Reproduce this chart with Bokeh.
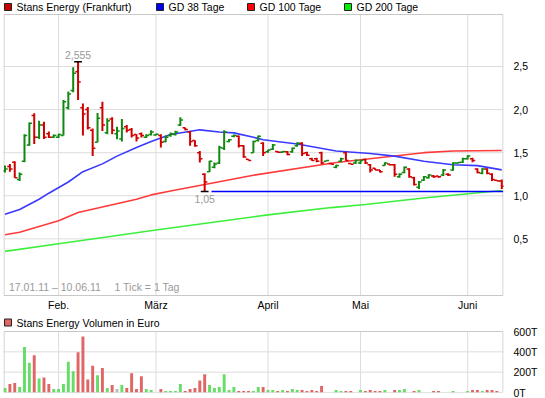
from bokeh.plotting import figure
from bokeh.models import (ColumnDataSource, FixedTicker, Range1d, Label,
                          CustomJSTickFormatter)
from bokeh.layouts import column
from bokeh.transform import dodge
from bokeh.embed import file_html
from bokeh.resources import INLINE

FONT = "Liberation Sans"
FS = "10.5px"

# ---------------- data (trading-day index 0 = 17.01.11 ... 102 = 10.06.11) ----------------
days = list(range(103))

open_ = [1.29, 1.34, 1.39, 1.19, 1.40, 1.59, 1.93, 1.68, 1.82, 1.72,
         1.68, 1.68, 1.70, 2.02, 2.22, 2.44, 2.02, 2.00, 1.76, 1.62,
         2.02, 1.73, 1.89, 1.72, 1.66, 1.80, 1.77, 1.71, 1.72, 1.68,
         1.71, 1.705, 1.70, 1.63, 1.70, 1.71, 1.82, 1.79, 1.74, 1.64,
         1.50, 1.25, 1.28, 1.33, 1.38, 1.55, 1.63, 1.69, 1.69, 1.58,
         1.425, 1.50, 1.64, 1.61, 1.51, 1.54, 1.515, 1.505, 1.51, 1.51,
         1.58, 1.61, 1.50, 1.43, 1.43, 1.50, 1.40, 1.375, 1.33, 1.40,
         1.50, 1.375, 1.38, 1.38, 1.42, 1.36, 1.32, 1.30, 1.35, 1.37,
         1.36, 1.22, 1.27, 1.31, 1.21, 1.10, 1.18, 1.21, 1.23, 1.23,
         1.24, 1.25, 1.30, 1.38, 1.39, 1.43, 1.43, 1.31, 1.26, 1.31,
         1.25, 1.18, 1.17]
high = [1.35, 1.37, 1.40, 1.27, 1.715, 1.85, 1.956, 1.87, 1.86, 1.745,
        1.71, 1.72, 2.11, 2.21, 2.49, 2.555, 2.07, 2.03, 1.78, 1.96,
        2.09, 1.90, 1.91, 1.80, 1.89, 1.82, 1.785, 1.715, 1.735, 1.715,
        1.76, 1.72, 1.715, 1.70, 1.735, 1.753, 1.91, 1.79, 1.75, 1.645,
        1.52, 1.26, 1.405, 1.385, 1.58, 1.76, 1.66, 1.71, 1.70, 1.587,
        1.425, 1.637, 1.70, 1.62, 1.535, 1.60, 1.52, 1.52, 1.52, 1.56,
        1.62, 1.62, 1.51, 1.44, 1.44, 1.51, 1.41, 1.375, 1.36, 1.44,
        1.51, 1.375, 1.42, 1.42, 1.43, 1.37, 1.32, 1.30, 1.39, 1.37,
        1.37, 1.26, 1.34, 1.32, 1.22, 1.17, 1.23, 1.25, 1.24, 1.23,
        1.31, 1.26, 1.39, 1.385, 1.44, 1.47, 1.44, 1.32, 1.32, 1.32,
        1.26, 1.18, 1.19]
low = [1.27, 1.28, 1.21, 1.17, 1.39, 1.58, 1.60, 1.66, 1.66, 1.67,
       1.67, 1.67, 1.70, 2.00, 2.20, 2.11, 1.70, 1.77, 1.46, 1.62,
       1.75, 1.715, 1.715, 1.657, 1.63, 1.735, 1.676, 1.63, 1.676, 1.67,
       1.70, 1.70, 1.56, 1.62, 1.684, 1.70, 1.81, 1.76, 1.58, 1.57,
       1.386, 1.05, 1.277, 1.32, 1.37, 1.53, 1.62, 1.68, 1.56, 1.44,
       1.41, 1.50, 1.63, 1.46, 1.50, 1.53, 1.50, 1.50, 1.47, 1.50,
       1.57, 1.46, 1.46, 1.405, 1.39, 1.37, 1.40, 1.365, 1.32, 1.39,
       1.405, 1.365, 1.37, 1.37, 1.37, 1.27, 1.30, 1.27, 1.35, 1.35,
       1.22, 1.21, 1.26, 1.21, 1.12, 1.08, 1.17, 1.20, 1.21, 1.21,
       1.23, 1.23, 1.29, 1.375, 1.38, 1.42, 1.39, 1.26, 1.25, 1.25,
       1.17, 1.17, 1.08]
close = [1.31, 1.31, 1.21, 1.25, 1.70, 1.84, 1.68, 1.82, 1.68, 1.68,
         1.70, 1.71, 2.09, 2.18, 2.42, 2.32, 1.95, 1.79, 1.55, 1.90,
         1.82, 1.87, 1.76, 1.75, 1.78, 1.76, 1.70, 1.67, 1.70, 1.70,
         1.74, 1.715, 1.62, 1.68, 1.72, 1.74, 1.88, 1.77, 1.63, 1.58,
         1.43, 1.16, 1.40, 1.37, 1.56, 1.74, 1.65, 1.70, 1.58, 1.45,
         1.41, 1.63, 1.69, 1.50, 1.53, 1.59, 1.505, 1.515, 1.48, 1.55,
         1.61, 1.49, 1.47, 1.41, 1.40, 1.38, 1.41, 1.365, 1.35, 1.43,
         1.41, 1.365, 1.41, 1.41, 1.38, 1.30, 1.30, 1.28, 1.38, 1.36,
         1.25, 1.25, 1.33, 1.22, 1.13, 1.16, 1.22, 1.24, 1.22, 1.22,
         1.30, 1.24, 1.38, 1.385, 1.43, 1.46, 1.41, 1.27, 1.31, 1.26,
         1.19, 1.17, 1.11]

# volume in thousand euro (T)
volume_t = [44, 84, 94, 54, 448, 293, 366, 138, 148, 84,
            34, 34, 84, 303, 210, 397, 552, 128, 262, 169,
            241, 44, 74, 34, 74, 44, 190, 34, 159, 34,
            24, 0, 34, 14, 14, 14, 84, 14, 34, 44,
            117, 179, 74, 44, 54, 179, 24, 54, 14, 14,
            14, 14, 54, 54, 24, 24, 14, 24, 14, 34,
            24, 24, 14, 24, 14, 64, 0, 0, 24, 14,
            14, 14, 0, 24, 14, 24, 14, 14, 24, 0,
            24, 24, 34, 0, 14, 24, 0, 0, 14, 14,
            0, 0, 14, 0, 0, 14, 24, 24, 14, 24,
            24, 14, 0]
volume_unchanged_days = [23]

# moving averages (read at sample days)
ma38_days = [0, 3, 7, 9, 13, 16, 20, 23, 27, 30, 34, 40, 44, 47, 51, 53, 60, 68, 75, 80, 86, 92, 97, 102]
ma38_vals = [0.785, 0.84, 0.96, 1.03, 1.16, 1.28, 1.37, 1.46, 1.56, 1.63, 1.71, 1.765, 1.74, 1.73,
             1.68, 1.65, 1.60, 1.52, 1.49, 1.46, 1.40, 1.36, 1.35, 1.30]
ma100_days = [0, 3, 11, 15, 27, 30, 34, 51, 68, 86, 92, 102]
ma100_vals = [0.548, 0.576, 0.709, 0.806, 0.959, 1.01, 1.056, 1.238, 1.386, 1.50, 1.52, 1.525]
ma200_days = [0, 11, 31, 54, 67, 74, 86, 102]
ma200_vals = [0.355, 0.443, 0.603, 0.778, 0.863, 0.899, 0.975, 1.062]

month_ticks = [11, 31, 54, 73, 95]
month_labels = ["Feb.", "März", "April", "Mai", "Juni"]
price_ticks = [0.5, 1.0, 1.5, 2.0, 2.5]
volume_ticks = [0, 200, 400, 600]

price_legend = [("Stans Energy (Frankfurt)", "#cc0000"), ("GD 38 Tage", "#0000ff"),
                ("GD 100 Tage", "#ff0000"), ("GD 200 Tage", "#00ee00")]
volume_legend = [("Stans Energy Volumen in Euro", "#e06666")]
period_text = "17.01.11 – 10.06.11"
tick_text = "1 Tick = 1 Tag"

# ---------------- layout constants ----------------
C_UP = "#118811"
C_DOWN = "#d00000"
GRID = "#dddddd"
FRAME = "#c8c8c8"
W = 545
B_LEFT, B_RIGHT = 3, 42
X0, X1 = -0.31, 102.36
PPX = (W - B_LEFT - B_RIGHT) / (X1 - X0)     # pixels per trading day


def xpx(px):
    """canvas pixel (from left) -> day coordinate"""
    return X0 + (px - B_LEFT) / PPX


def make_panel(height, top_pad, bot_pad, b_bottom, y0, y1, ticks, fmt_code,
               legend_items, legend_px, legend_cy):
    panel_h = height - b_bottom - top_pad - bot_pad
    upp = (y1 - y0) / panel_h
    ytop = y1 + top_pad * upp
    ybot = y0 - bot_pad * upp

    def ypx(py):
        return ytop - py * upp

    f = figure(width=W, height=height, x_range=Range1d(X0, X1), y_range=Range1d(ybot, ytop),
               output_backend="svg", toolbar_location=None, y_axis_location="right",
               x_axis_location=None,
               min_border_left=B_LEFT, min_border_right=B_RIGHT, min_border_top=0,
               min_border_bottom=b_bottom)
    f.outline_line_color = None
    f.background_fill_color = "white"
    f.border_fill_color = "white"
    f.xgrid.visible = False
    f.ygrid.visible = False
    ya = f.yaxis[0]
    ya.ticker = FixedTicker(ticks=ticks)
    ya.formatter = CustomJSTickFormatter(code=fmt_code)
    ya.axis_line_color = None
    ya.major_tick_line_color = None
    ya.minor_tick_line_color = None
    ya.major_label_standoff = 4
    ya.major_label_text_font = FONT
    ya.major_label_text_font_size = FS
    ya.major_label_text_color = "#000000"

    # grid inside the panel
    f.segment(x0=month_ticks, y0=[y0] * len(month_ticks), x1=month_ticks, y1=[y1] * len(month_ticks),
              line_color=GRID, line_width=1)
    inner = [t for t in ticks if y0 < t < y1]
    f.segment(x0=[X0] * len(inner), y0=inner, x1=[X1] * len(inner), y1=inner,
              line_color=GRID, line_width=1)
    # panel frame
    half = 0.5 / PPX
    f.quad(left=[X0 + half], right=[X1 - half], bottom=[y0], top=[y1],
           fill_color=None, line_color=FRAME, line_width=1)

    # legend row
    for (label, color), px in zip(legend_items, legend_px):
        f.quad(left=[xpx(px)], right=[xpx(px + 7)], top=[ypx(legend_cy - 3.5)],
               bottom=[ypx(legend_cy + 3.5)], fill_color=color, line_color="#222222", line_width=1)
        f.add_layout(Label(x=xpx(px + 12), y=ypx(legend_cy), text=label, text_baseline="middle",
                           text_font=FONT, text_font_size=FS, text_color="#000000"))
    return f, ypx


# ---------------- price panel ----------------
P_Y0, P_Y1 = -0.157, 3.103
p, pypx = make_panel(312, 14, 17, 0, P_Y0, P_Y1, price_ticks,
                     "return tick.toFixed(1).replace('.', ',');",
                     price_legend, [4, 156, 247, 344], 6.5)

# month labels under the price panel
for t, lab in zip(month_ticks, month_labels):
    p.add_layout(Label(x=t, y=pypx(304), text=lab, text_align="center", text_baseline="middle",
                       text_font=FONT, text_font_size=FS, text_color="#000000"))

p.line(ma200_days, ma200_vals, line_color="#3def3d", line_width=1.6)
p.line(ma100_days, ma100_vals, line_color="#ff3a3a", line_width=1.6)
p.line(ma38_days, ma38_vals, line_color="#3a3aff", line_width=1.6)

# support line from the period low
lo_i = low.index(min(low))
hi_i = high.index(max(high))
p.segment(x0=[days[lo_i] + 1.4], y0=[low[lo_i]], x1=[days[-1] + 0.3], y1=[low[lo_i]],
          line_color="#0000ff", line_width=1.5)

colors = [C_UP if c > o else C_DOWN for o, c in zip(open_, close)]
src = ColumnDataSource(dict(x=days, o=open_, h=high, l=low, c=close, color=colors))
p.segment(x0="x", y0="l", x1="x", y1="h", line_color="color", line_width=2, source=src)
p.segment(x0=dodge("x", -0.55), y0="o", x1="x", y1="o",
          line_color="color", line_width=1.5, source=src)
p.segment(x0="x", y0="c", x1=dodge("x", 0.55), y1="c",
          line_color="color", line_width=1.5, source=src)

# high / low markers
for i, val in ((hi_i, high[hi_i]), (lo_i, low[lo_i])):
    p.segment(x0=[days[i] - 0.8], y0=[val], x1=[days[i] + 0.8], y1=[val],
              line_color="#000000", line_width=1.5)
fmt = lambda val: ("%g" % val).replace(".", ",")
p.add_layout(Label(x=days[hi_i], y=high[hi_i], text=fmt(high[hi_i]), text_align="center",
                   text_baseline="bottom", y_offset=3, text_font=FONT,
                   text_font_size=FS, text_color="#999999"))
p.add_layout(Label(x=days[lo_i], y=low[lo_i], text=fmt(low[lo_i]), text_align="center",
                   text_baseline="top", y_offset=-4, text_font=FONT,
                   text_font_size=FS, text_color="#999999"))
p.add_layout(Label(x=xpx(8.5), y=P_Y0, text=period_text, y_offset=3,
                   text_baseline="bottom", text_font=FONT, text_font_size=FS,
                   text_color="#999999"))
p.add_layout(Label(x=xpx(114), y=P_Y0, text=tick_text, y_offset=3,
                   text_baseline="bottom", text_font=FONT, text_font_size=FS,
                   text_color="#999999"))

# ---------------- volume panel ----------------
v, vypx = make_panel(86, 19, 0, 6, 0, 600, volume_ticks, "return tick + 'T';",
                     volume_legend, [4], 10)

vcolors = []
for d, o, c in zip(days, open_, close):
    if d in volume_unchanged_days:
        vcolors.append("#bbbbbb")
    else:
        vcolors.append("#66dd66" if c > o else "#e06666")
vsrc = ColumnDataSource(dict(x=days, v=volume_t, color=vcolors))
v.vbar(x="x", top="v", width=0.6, fill_color="color", line_color=None, source=vsrc)

layout = column(p, v)
open("out.html", "w").write(file_html(layout, INLINE))
